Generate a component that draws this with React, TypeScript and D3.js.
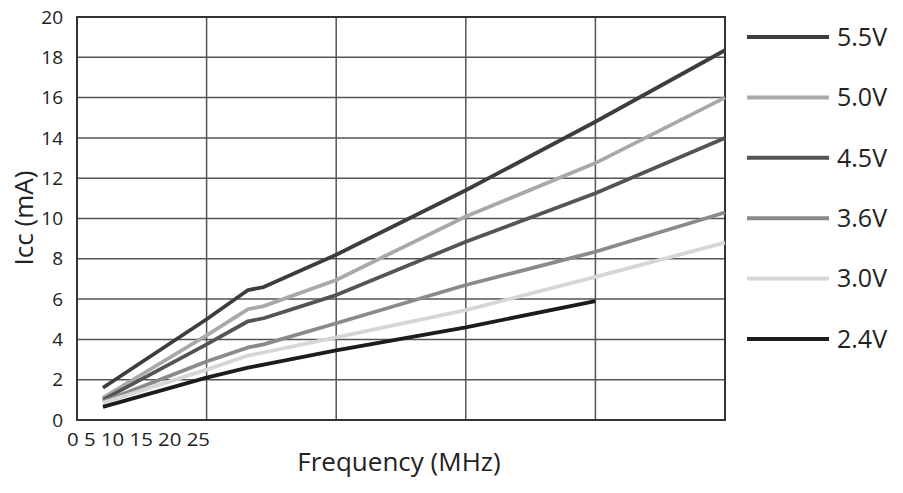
import React from "react";
import * as d3 from "d3";

const freqs = [5, 25, 33, 36, 50, 75, 100, 125];
const series = ["5.5V", "5.0V", "4.5V", "3.6V", "3.0V", "2.4V"];
const v55 = [1.6, 5.0, 6.45, 6.6, 8.2, 11.4, 14.8, 18.35];
const v50 = [1.1, 4.2, 5.5, 5.65, 6.95, 10.1, 12.75, 16.0];
const v45 = [1.0, 3.75, 4.9, 5.05, 6.2, 8.85, 11.25, 14.0];
const v36 = [0.9, 2.9, 3.6, 3.75, 4.8, 6.7, 8.35, 10.3];
const v30 = [0.85, 2.5, 3.2, 3.35, 4.1, 5.45, 7.1, 8.8];
const v24 = [0.65, 2.1, 2.6, 2.75, 3.45, 4.6, 5.9];
const yTicks = [0, 2, 4, 6, 8, 10, 12, 14, 16, 18, 20];
const xGrid = [25, 50, 75, 100, 125];
const xTickLabels = ["0", "5", "10", "15", "20", "25"];
const colors = ["#3d3d3d", "#a9a9a9", "#545454", "#8a8a8a", "#d6d6d6", "#1c1c1c"];

const W = 903, H = 493;
const left = 77, right = 725, top = 17, bottom = 420;
const FONT = "'Open Sans', 'Noto Sans', sans-serif";

export default function App() {
  const x = d3.scaleLinear().domain([0, 125]).range([left, right]);
  const y = d3.scaleLinear().domain([0, 20]).range([bottom, top]);
  const values = [v55, v50, v45, v36, v30, v24];
  const line = d3.line<[number, number]>().x(d => x(d[0])).y(d => y(d[1]));
  const legendY = d3.scalePoint<string>().domain(series).range([37, 339]);

  return (
    <svg width={W} height={H} style={{ position: "absolute", left: 0, top: 0, background: "#fff" }}
      fontFamily={FONT}>
      {yTicks.map(t => (
        <line key={"h" + t} x1={left} x2={right} y1={y(t)} y2={y(t)} stroke="#555" strokeWidth={1.5} />
      ))}
      {xGrid.map(t => (
        <line key={"v" + t} x1={x(t)} x2={x(t)} y1={top} y2={bottom} stroke="#555" strokeWidth={1.5} />
      ))}
      <rect x={left} y={top} width={right - left} height={bottom - top} fill="none" stroke="#333" strokeWidth={2} />
      {values.map((vals, i) => (
        <path key={series[i]} d={line(vals.map((v, j) => [freqs[j], v]))!} fill="none"
          stroke={colors[i]} strokeWidth={3.8} strokeLinejoin="round" />
      ))}
      {yTicks.map(t => (
        <text key={"yt" + t} x={63} y={y(t)} dy="0.35em" textAnchor="end" fontSize={19} fill="#222">{t}</text>
      ))}
      <text x={67} y={446} fontSize={19} fill="#222" textLength={143} lengthAdjust="spacingAndGlyphs">
        {xTickLabels.join(" ")}
      </text>
      <text x={399} y={471} textAnchor="middle" fontSize={26} fill="#222">Frequency (MHz)</text>
      <text transform={`translate(33, 218) rotate(-90)`} textAnchor="middle" fontSize={26} fill="#222">Icc (mA)</text>
      {series.map((s, i) => (
        <g key={"lg" + s}>
          <line x1={747} x2={829} y1={legendY(s)!} y2={legendY(s)!} stroke={colors[i]} strokeWidth={4} />
          <text x={837} y={legendY(s)!} dy="0.35em" fontSize={25} fill="#222">{s}</text>
        </g>
      ))}
    </svg>
  );
}
